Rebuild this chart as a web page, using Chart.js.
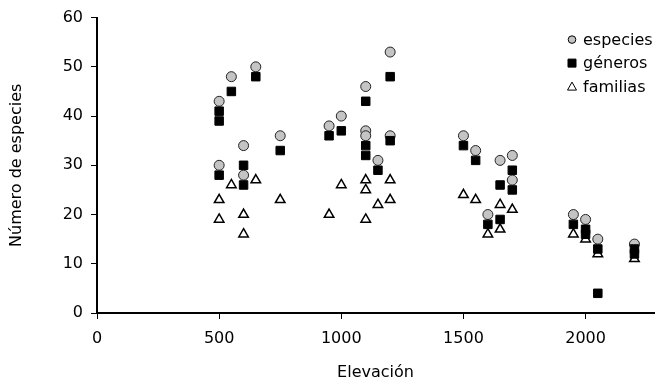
<!DOCTYPE html>
<html>
<head>
<meta charset="utf-8">
<script src="https://cdn.jsdelivr.net/npm/chart.js@4"></script>
<style>
  body { margin: 0; background: #fff; }
  #wrap { width: 661px; height: 385px; }
</style>
</head>
<body>
<div id="wrap"><canvas id="grafico"></canvas></div>
<script>
// elevacion y numero de taxones por sitio
var elevEspecies = [500, 500, 550, 650, 600, 600, 750, 950, 1000, 1100, 1100, 1100, 1150, 1200, 1200, 1500, 1550, 1600, 1650, 1700, 1700, 1950, 2000, 2050, 2200];
var especies = [43, 30, 48, 50, 34, 28, 36, 38, 40, 46, 37, 36, 31, 53, 36, 36, 33, 20, 31, 32, 27, 20, 19, 15, 14];

var elevGeneros = [500, 500, 500, 550, 650, 600, 600, 750, 950, 1000, 1100, 1100, 1100, 1150, 1200, 1200, 1500, 1550, 1600, 1650, 1650, 1700, 1700, 1950, 2000, 2000, 2050, 2050, 2200, 2200];
var generos = [41, 39, 28, 45, 48, 30, 26, 33, 36, 37, 43, 34, 32, 29, 48, 35, 34, 31, 18, 26, 19, 29, 25, 18, 17, 16, 13, 4, 13, 12];

var elevFamilias = [500, 500, 550, 650, 600, 600, 750, 950, 1000, 1100, 1100, 1100, 1150, 1200, 1200, 1500, 1550, 1600, 1650, 1650, 1700, 1950, 2000, 2050, 2200];
var familias = [23, 19, 26, 27, 20, 16, 23, 20, 26, 27, 25, 19, 22, 27, 23, 24, 23, 16, 22, 17, 21, 16, 15, 12, 11];

var ticksX = [0, 500, 1000, 1500, 2000];

function pares(xs, ys) {
  var r = [];
  for (var i = 0; i < xs.length; i++) {
    r.push({ x: xs[i], y: ys[i] });
  }
  return r;
}

var fonte = { family: 'DejaVu Sans', size: 16 };

// leyenda propia, arriba a la derecha dentro del area
var leyenda = {
  id: 'leyenda',
  afterDraw: function (chart) {
    var ctx = chart.ctx;
    var x = chart.width - 89;
    var y = chart.chartArea.top + 22;
    ctx.save();
    ctx.font = '16px "DejaVu Sans"';
    ctx.textBaseline = 'middle';
    chart.data.datasets.forEach(function (ds, i) {
      var cy = y + i * 23.5;
      ctx.lineWidth = 1;
      ctx.strokeStyle = '#000';
      ctx.fillStyle = ds.backgroundColor;
      ctx.beginPath();
      if (ds.pointStyle == 'circle') {
        ctx.arc(x, cy, 3.8, 0, Math.PI * 2);
      } else if (ds.pointStyle == 'rect') {
        ctx.rect(x - 4, cy - 4, 8, 8);
      } else {
        ctx.moveTo(x, cy - 4.5);
        ctx.lineTo(x + 4.5, cy + 3.5);
        ctx.lineTo(x - 4.5, cy + 3.5);
        ctx.closePath();
      }
      ctx.fill();
      ctx.stroke();
      ctx.fillStyle = '#000';
      ctx.fillText(ds.label, x + 11, cy + 1);
    });
    ctx.restore();
  }
};

var ctx = document.getElementById('grafico').getContext('2d');
var chart = new Chart(ctx, {
  type: 'scatter',
  data: {
    datasets: [
      {
        label: 'especies',
        data: pares(elevEspecies, especies),
        pointStyle: 'circle',
        backgroundColor: '#c4c4c4',
        borderColor: '#222',
        borderWidth: 1,
        pointRadius: 5,
        order: 2
      },
      {
        label: 'géneros',
        data: pares(elevGeneros, generos),
        pointStyle: 'rect',
        backgroundColor: '#000',
        borderColor: '#000',
        borderWidth: 1,
        pointRadius: 6,
        order: 1
      },
      {
        label: 'familias',
        data: pares(elevFamilias, familias),
        pointStyle: 'triangle',
        backgroundColor: '#fff',
        borderColor: '#000',
        borderWidth: 1.5,
        pointRadius: 5.5,
        order: 3
      }
    ]
  },
  options: {
    responsive: true,
    maintainAspectRatio: false,
    animation: false,
    layout: { padding: { top: 17, right: 3, left: 0, bottom: 0 } },
    plugins: {
      legend: { display: false },
      tooltip: { enabled: false }
    },
    scales: {
      x: {
        type: 'linear',
        min: 0,
        max: 2280,
        afterBuildTicks: function (scale) {
          scale.ticks = ticksX.map(function (v) { return { value: v }; });
        },
        afterFit: function (scale) { scale.height = 72; },
        border: { color: '#000', width: 2 },
        grid: { drawOnChartArea: false, color: '#000', tickLength: 6 },
        ticks: {
          color: '#000', font: fonte, padding: 10, maxRotation: 0,
          callback: function (v) { return String(v); }
        },
        title: { display: true, text: 'Elevación', color: '#000', font: fonte, padding: { top: 4, bottom: 3 } }
      },
      y: {
        min: 0,
        max: 60,
        afterFit: function (scale) { scale.width = 97; },
        border: { color: '#000', width: 2 },
        grid: { drawOnChartArea: false, color: '#000', tickLength: 6 },
        ticks: { color: '#000', font: fonte, stepSize: 10, padding: 8 },
        title: { display: true, text: 'Número de especies', color: '#000', font: fonte, padding: { top: 7, bottom: 4 } }
      }
    }
  },
  plugins: [leyenda]
});
</script>
</body>
</html>
